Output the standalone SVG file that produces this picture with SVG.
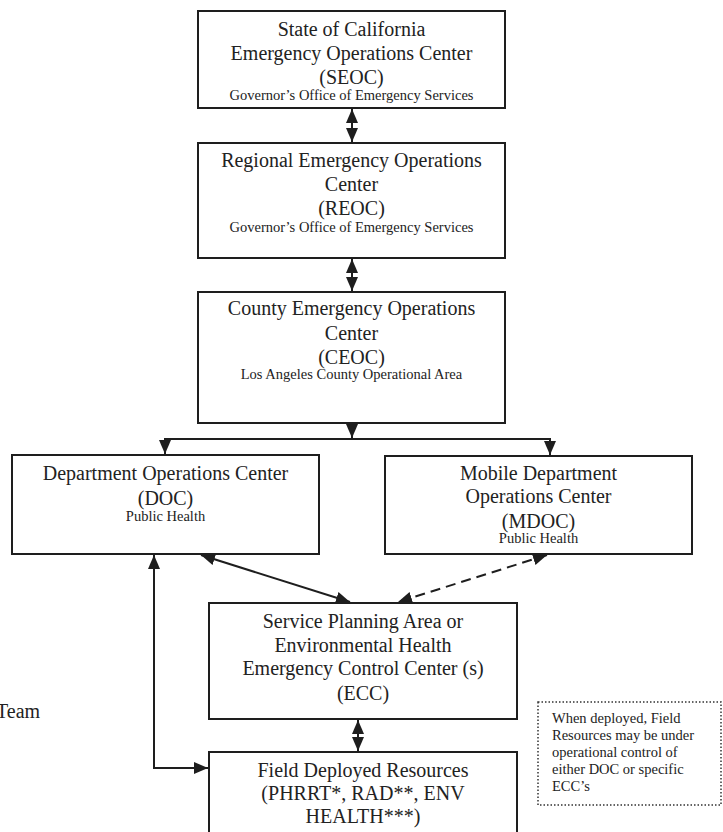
<svg xmlns="http://www.w3.org/2000/svg" width="723" height="832" viewBox="0 0 723 832">
<style>
.box{fill:#fff;stroke:#1e1e1e;stroke-width:2}
.note{fill:#fff;stroke:#333;stroke-width:1.5;stroke-dasharray:1.5 2}
.big{font-family:"Liberation Serif",serif;font-size:20px;fill:#222;text-anchor:middle}
.small{font-family:"Liberation Serif",serif;font-size:14.5px;fill:#222;text-anchor:middle}
.nt{font-family:"Liberation Serif",serif;font-size:14.5px;fill:#222}
.ln{fill:none;stroke:#1e1e1e;stroke-width:2}
.dash{stroke-dasharray:10 6}
</style>
<defs>
<marker id="ah" viewBox="0 0 14 12" refX="14" refY="6" markerWidth="14" markerHeight="12" markerUnits="userSpaceOnUse" orient="auto-start-reverse">
<path d="M0,0 L14,6 L0,12 Z" fill="#1e1e1e"/>
</marker>
</defs>
<rect width="723" height="832" fill="#fff"/>
<g id="connectors">
<line class="ln" x1="352" y1="109" x2="352" y2="142" marker-start="url(#ah)" marker-end="url(#ah)"/>
<line class="ln" x1="352" y1="259" x2="352" y2="291" marker-start="url(#ah)" marker-end="url(#ah)"/>
<line class="ln" x1="352" y1="424" x2="352" y2="438" marker-end="url(#ah)"/>
<polyline class="ln" points="165,454 165,439 550,439 550,455" marker-start="url(#ah)" marker-end="url(#ah)"/>
<line class="ln" x1="201" y1="555" x2="350" y2="602" marker-start="url(#ah)" marker-end="url(#ah)"/>
<line class="ln dash" x1="547" y1="555" x2="398" y2="602" marker-start="url(#ah)" marker-end="url(#ah)"/>
<polyline class="ln" points="154,555 154,768 208,768" marker-start="url(#ah)" marker-end="url(#ah)"/>
<line class="ln" x1="358" y1="720" x2="358" y2="751" marker-start="url(#ah)" marker-end="url(#ah)"/>
</g>
<g id="seoc">
<rect class="box" x="198" y="11" width="307" height="97"/>
<text class="big" x="351.5" y="36">State of California</text>
<text class="big" x="351.5" y="60">Emergency Operations Center</text>
<text class="big" x="351.5" y="84">(SEOC)</text>
<text class="small" x="351.5" y="100">Governor’s Office of Emergency Services</text>
</g>
<g id="reoc">
<rect class="box" x="198" y="143" width="307" height="115"/>
<text class="big" x="351.5" y="167">Regional Emergency Operations</text>
<text class="big" x="351.5" y="191">Center</text>
<text class="big" x="351.5" y="215">(REOC)</text>
<text class="small" x="351.5" y="232">Governor’s Office of Emergency Services</text>
</g>
<g id="ceoc">
<rect class="box" x="198" y="292" width="307" height="131"/>
<text class="big" x="351.5" y="315">County Emergency Operations</text>
<text class="big" x="351.5" y="340">Center</text>
<text class="big" x="351.5" y="364">(CEOC)</text>
<text class="small" x="351.5" y="379">Los Angeles County Operational Area</text>
</g>
<g id="doc">
<rect class="box" x="12" y="455" width="307" height="99"/>
<text class="big" x="165.5" y="480">Department Operations Center</text>
<text class="big" x="165.5" y="505">(DOC)</text>
<text class="small" x="165.5" y="521">Public Health</text>
</g>
<g id="mdoc">
<rect class="box" x="385" y="456" width="307" height="98"/>
<text class="big" x="538.5" y="480">Mobile Department</text>
<text class="big" x="538.5" y="503">Operations Center</text>
<text class="big" x="538.5" y="528">(MDOC)</text>
<text class="small" x="538.5" y="543">Public Health</text>
</g>
<g id="ecc">
<rect class="box" x="209" y="603" width="308" height="116"/>
<text class="big" x="363" y="628">Service Planning Area or</text>
<text class="big" x="363" y="652">Environmental Health</text>
<text class="big" x="363" y="675">Emergency Control Center (s)</text>
<text class="big" x="363" y="700">(ECC)</text>
</g>
<g id="field">
<rect class="box" x="209" y="752" width="308" height="90"/>
<text class="big" x="363" y="777">Field Deployed Resources</text>
<text class="big" x="363" y="800">(PHRRT*, RAD**, ENV</text>
<text class="big" x="363" y="823">HEALTH***)</text>
</g>
<g id="note">
<rect class="note" x="538" y="702" width="183" height="103"/>
<text class="nt" x="552" y="723">When deployed, Field</text>
<text class="nt" x="552" y="740">Resources may be under</text>
<text class="nt" x="552" y="757">operational control of</text>
<text class="nt" x="552" y="774">either DOC or specific</text>
<text class="nt" x="552" y="791">ECC’s</text>
</g>
<g id="team">
<text class="big" x="-4" y="718" style="text-anchor:start">Team</text>
</g>
</svg>
